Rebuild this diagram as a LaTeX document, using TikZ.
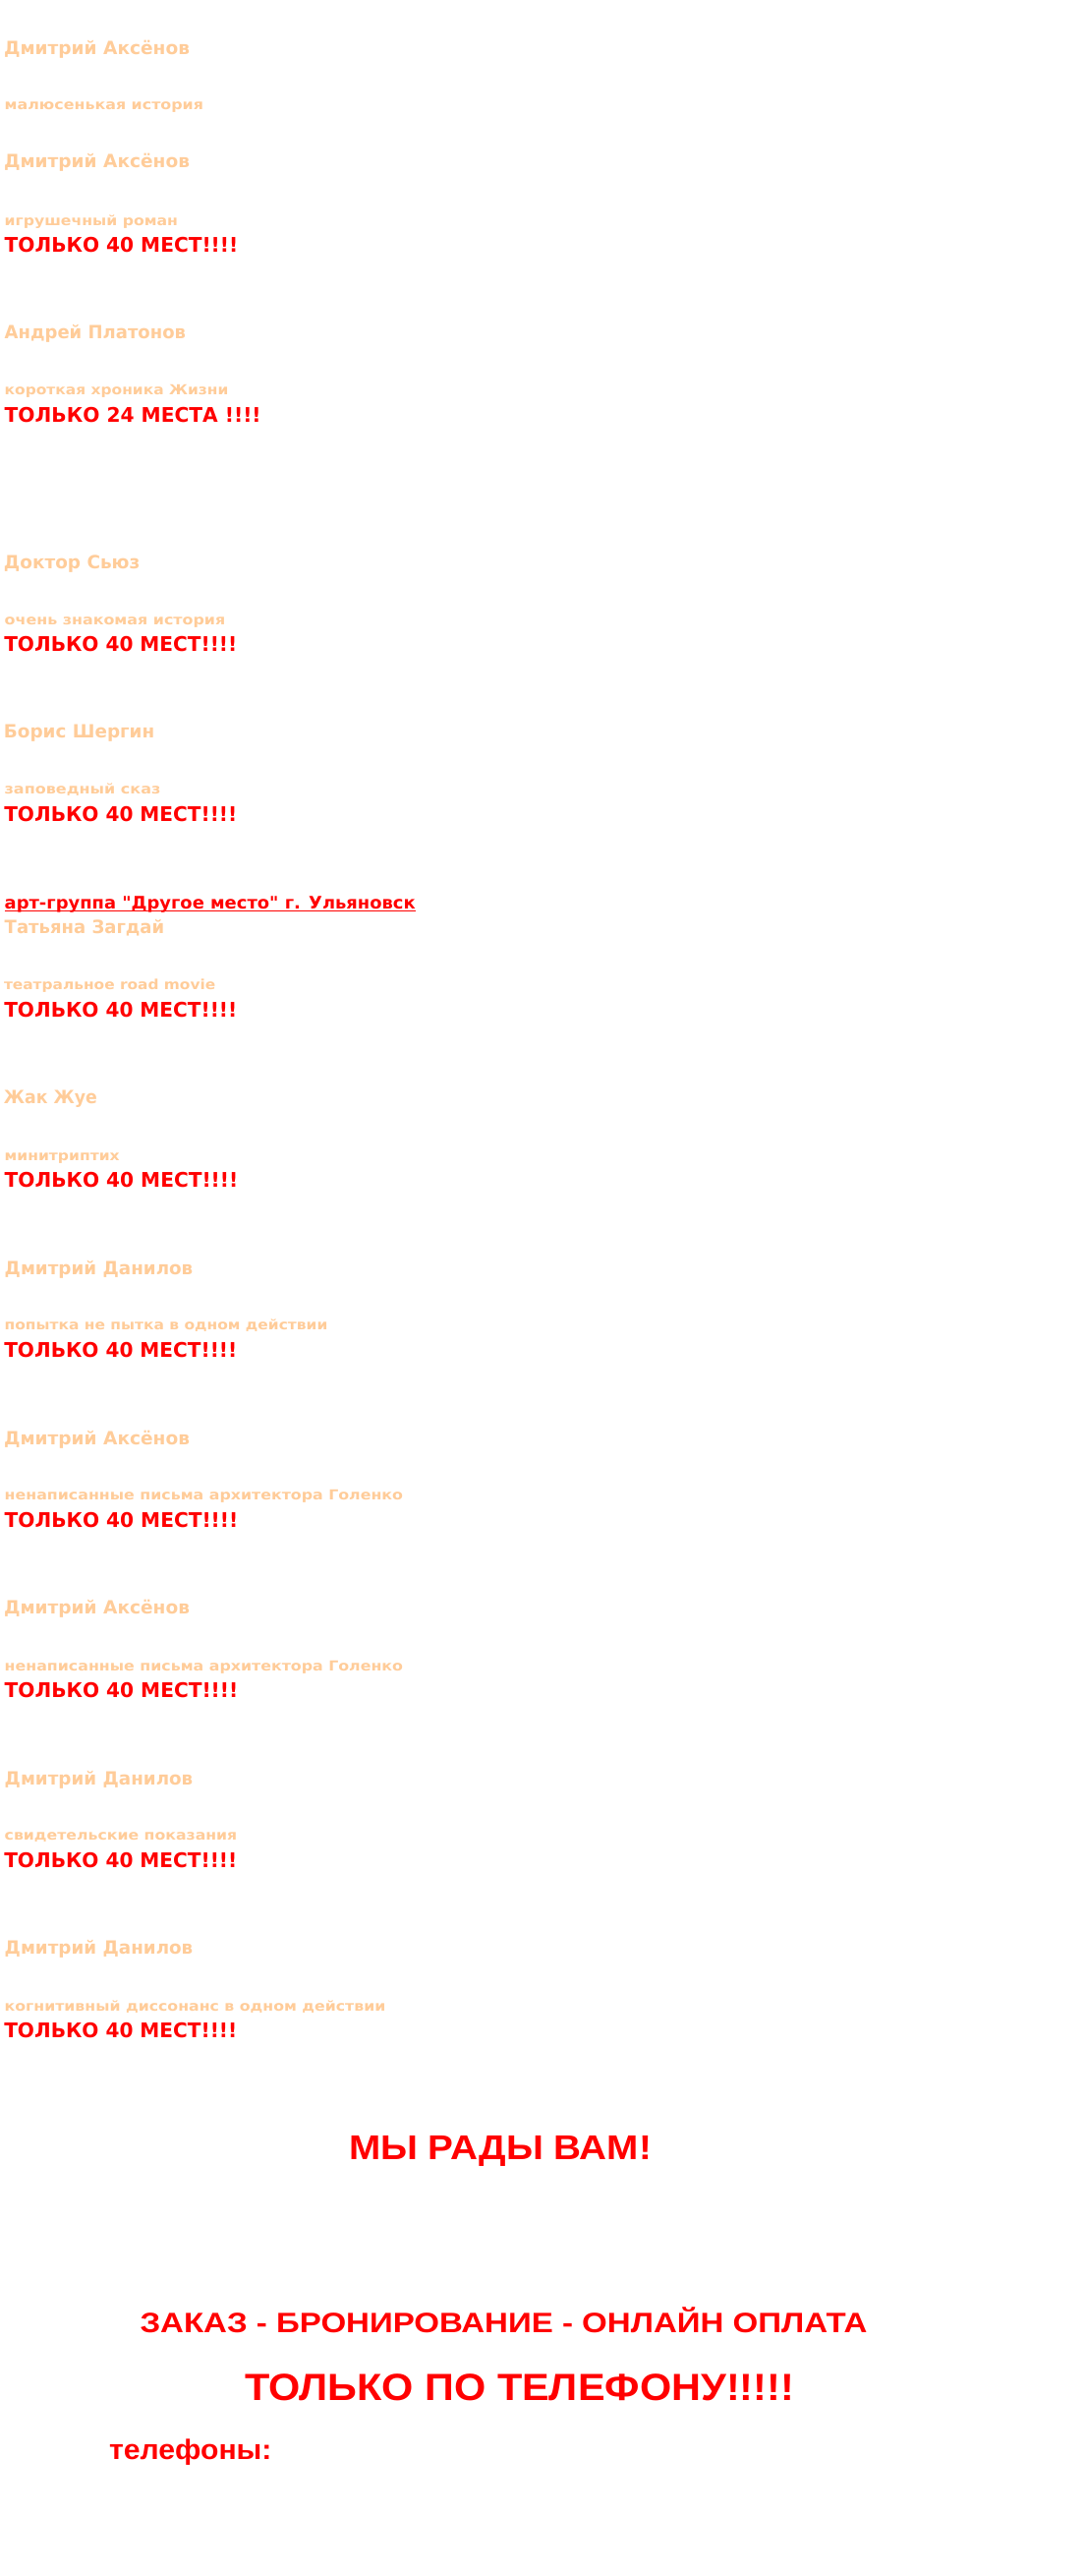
\documentclass[tikz,border=0pt]{standalone}
\usepackage{fontspec}
\usepackage{graphicx}
\newfontfamily\vfont{DejaVu Sans}[BoldFont={DejaVu Sans Bold}]
\newfontfamily\afont{Liberation Sans}
\definecolor{peach}{HTML}{FFCC99}
\definecolor{pred}{HTML}{FF0000}
\newcommand{\fitw}[2]{\resizebox{#1pt}{\height}{#2}}
\tikzset{
  txt/.style={anchor=base west, inner sep=0pt, outer sep=0pt},
  namestyle/.style={txt, text=peach, font=\vfont\bfseries\fontsize{18.5}{20}\selectfont},
  substyle/.style={txt, text=peach, font=\vfont\bfseries\fontsize{14}{16}\selectfont},
  seatstyle/.style={txt, text=pred, font=\vfont\bfseries\fontsize{20.5}{22}\selectfont},
  groupstyle/.style={txt, text=pred, font=\vfont\bfseries\fontsize{17.5}{19}\selectfont},
  bigstyle/.style={txt, text=pred, font=\afont\bfseries\fontsize{#1}{#1}\selectfont},
}
\begin{document}
\begin{tikzpicture}[x=1pt, y=-1pt]
\useasboundingbox[fill=white] (0,0) rectangle (1104,2620);

% block 1
\node[namestyle] (n1) at (4,55.7) {\fitw{189}{Дмитрий Аксёнов}};
\node[substyle] (s1) at (4.7,112) {\fitw{202.3}{малюсенькая история}};
% block 2
\node[namestyle] (n2) at (4,170.7) {\fitw{189}{Дмитрий Аксёнов}};
\node[substyle] (s2) at (4.7,229) {\fitw{176.3}{игрушечный роман}};
\node[seatstyle] (t2) at (4.7,256.7) {\fitw{237.6}{ТОЛЬКО 40 МЕСТ!!!!}};
% block 3
\node[namestyle] (n3) at (4.7,344) {\fitw{184.3}{Андрей Платонов}};
\node[substyle] (s3) at (4.7,401.7) {\fitw{227.6}{короткая хроника Жизни}};
\node[seatstyle] (t3) at (4.7,429.3) {\fitw{261}{ТОЛЬКО 24 МЕСТА !!!!}};
% block 4
\node[namestyle] (n4) at (4,578.3) {\fitw{138.3}{Доктор Сьюз}};
\node[substyle] (s4) at (4.7,635) {\fitw{224.6}{очень знакомая история}};
\node[seatstyle] (t4) at (4.3,662.3) {\fitw{237}{ТОЛЬКО 40 МЕСТ!!!!}};
% block 5
\node[namestyle] (n5) at (4,750.7) {\fitw{153.3}{Борис Шергин}};
\node[substyle] (s5) at (4.7,807.5) {\fitw{158.6}{заповедный сказ}};
\node[seatstyle] (t5) at (4.3,835) {\fitw{237}{ТОЛЬКО 40 МЕСТ!!!!}};
% block 6
\node[groupstyle] (g6) at (4.7,924) {\fitw{418}{арт-группа "Другое место" г. Ульяновск}};
\draw[pred, line width=1.4pt] ([yshift=-2.6pt]g6.base west) -- ([yshift=-2.6pt]g6.base east);
\node[namestyle] (n6) at (4.7,949.5) {\fitw{162.6}{Татьяна Загдай}};
\node[substyle] (s6) at (4,1006.7) {\fitw{215.3}{театральное road movie}};
\node[seatstyle] (t6) at (4.3,1034.3) {\fitw{237}{ТОЛЬКО 40 МЕСТ!!!!}};
% block 7
\node[namestyle] (n7) at (4,1122.7) {\fitw{95}{Жак Жуе}};
\node[substyle] (s7) at (4.7,1180) {\fitw{117}{минитриптих}};
\node[seatstyle] (t7) at (4.7,1207.3) {\fitw{237.6}{ТОЛЬКО 40 МЕСТ!!!!}};
% block 8
\node[namestyle] (n8) at (4.7,1296) {\fitw{191.6}{Дмитрий Данилов}};
\node[substyle] (s8) at (4.7,1352.7) {\fitw{328.6}{попытка не пытка в одном действии}};
\node[seatstyle] (t8) at (4.3,1380) {\fitw{237}{ТОЛЬКО 40 МЕСТ!!!!}};
% block 9
\node[namestyle] (n9) at (4,1469.3) {\fitw{189}{Дмитрий Аксёнов}};
\node[substyle] (s9) at (4.7,1525.7) {\fitw{405.3}{ненаписанные письма архитектора Голенко}};
\node[seatstyle] (t9) at (4.7,1553.3) {\fitw{237.6}{ТОЛЬКО 40 МЕСТ!!!!}};
% block 10
\node[namestyle] (n10) at (4,1641.7) {\fitw{189}{Дмитрий Аксёнов}};
\node[substyle] (s10) at (4.7,1699) {\fitw{405.3}{ненаписанные письма архитектора Голенко}};
\node[seatstyle] (t10) at (4.7,1726.7) {\fitw{237.6}{ТОЛЬКО 40 МЕСТ!!!!}};
% block 11
\node[namestyle] (n11) at (4.7,1815) {\fitw{191.6}{Дмитрий Данилов}};
\node[substyle] (s11) at (4.7,1871.7) {\fitw{236.6}{свидетельские показания}};
\node[seatstyle] (t11) at (4.3,1899.3) {\fitw{237}{ТОЛЬКО 40 МЕСТ!!!!}};
% block 12
\node[namestyle] (n12) at (4.7,1987.3) {\fitw{191.6}{Дмитрий Данилов}};
\node[substyle] (s12) at (4.7,2045) {\fitw{387.6}{когнитивный диссонанс в одном действии}};
\node[seatstyle] (t12) at (4.3,2072.3) {\fitw{237}{ТОЛЬКО 40 МЕСТ!!!!}};

% bottom
\node[bigstyle=35] (welcome) at (355,2196.7) {\fitw{308}{МЫ РАДЫ ВАМ!}};
\node[bigstyle=28.5] (order) at (142.5,2372) {\fitw{740}{ЗАКАЗ - БРОНИРОВАНИЕ - ОНЛАЙН ОПЛАТА}};
\node[bigstyle=38.5] (phoneonly) at (249,2441.5) {\fitw{559}{ТОЛЬКО ПО ТЕЛЕФОНУ!!!!!}};
\node[bigstyle=28.5] (phones) at (111,2501.7) {\fitw{165.5}{телефоны:}};
\end{tikzpicture}
\end{document}
